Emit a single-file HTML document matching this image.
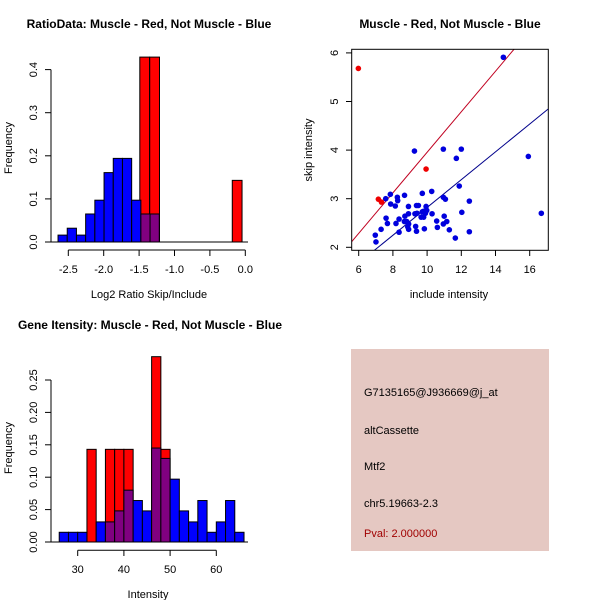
<!DOCTYPE html>
<html><head><meta charset="utf-8"><style>
body{margin:0;background:#fff}
svg{display:block;font-family:"Liberation Sans",sans-serif}
</style></head><body>
<svg id="c" width="600" height="600" xmlns="http://www.w3.org/2000/svg">
<rect width="600" height="600" fill="#fff"/>
<rect x="351" y="349" width="198" height="202" fill="#e5c8c2"/>
<text x="364" y="396" font-size="11" fill="#000">G7135165@J936669@j_at</text>
<text x="364" y="434" font-size="11" fill="#000">altCassette</text>
<text x="364" y="470" font-size="11" fill="#000">Mtf2</text>
<text x="364" y="507" font-size="11" fill="#000">chr5.19663-2.3</text>
<text x="364" y="537" font-size="11" fill="#a00000">Pval: 2.000000</text>
</svg>
<script>
// ---- Panel 1: ratio histogram ----
const ratioBlueLefts = [-2.645,-2.515,-2.385,-2.255,-2.125,-1.995,-1.865,-1.735,-1.605,-1.475,-1.345];
const ratioBlueFreq = [0.016,0.032,0.016,0.065,0.097,0.161,0.194,0.194,0.097,0.065,0.065];
const ratioRedLefts = [-1.49,-1.35,-0.184];
const ratioRedFreq = [0.429,0.429,0.143];
const ratioXTicks = [-2.5,-2.0,-1.5,-1.0,-0.5,0.0];
const ratioYTicks = [0.0,0.1,0.2,0.3,0.4];
// ---- Panel 2: scatter ----
const redX = [5.98,7.15,7.33,9.94];
const redY = [5.68,2.99,2.93,3.61];
const blueX = [14.46,15.92,16.68,9.26,10.95,12.0,11.71,11.88,9.72,10.27,8.68,7.58,7.85,8.26,8.28,7.87,8.14,10.95,11.07,12.47,8.91,9.38,9.49,9.94,9.98,9.79,9.72,9.90,9.29,9.41,8.91,8.70,10.29,11.0,12.03,9.65,9.80,7.60,8.36,8.67,7.68,8.18,8.81,8.92,10.56,11.15,10.95,9.33,8.87,10.60,8.92,9.84,7.31,11.30,8.36,9.38,12.47,11.65,6.97,7.01];
const blueY = [5.91,3.87,2.70,3.98,4.02,4.02,3.83,3.26,3.11,3.15,3.07,3.00,3.09,3.03,2.96,2.89,2.85,3.03,2.99,2.95,2.84,2.86,2.86,2.84,2.76,2.74,2.73,2.70,2.69,2.70,2.69,2.64,2.69,2.64,2.72,2.62,2.62,2.60,2.58,2.53,2.49,2.49,2.53,2.48,2.54,2.53,2.48,2.43,2.42,2.41,2.37,2.38,2.37,2.36,2.31,2.33,2.32,2.19,2.25,2.11];
const redLine = [-0.215,0.417];
const blueLine = [-0.04,0.286];
const scatXTicks = [6,8,10,12,14,16];
const scatYTicks = [2,3,4,5,6];
// ---- Panel 3: intensity histogram ----
const intBlueLefts = [26,28,30,32,34,36,38,40,42,44,46,48,50,52,54,56,58,60,62,64];
const intBlueFreq = [0.015,0.015,0.015,0,0.031,0.031,0.048,0.080,0.064,0.048,0.145,0.129,0.097,0.048,0.031,0.064,0.015,0.031,0.064,0.015];
const intRedLefts = [32,36,38,40,46,48];
const intRedFreq = [0.143,0.143,0.143,0.143,0.286,0.143];
const intXTicks = [30,40,50,60];
const intYTicks = [0.00,0.05,0.10,0.15,0.20,0.25];

const svg = document.getElementById('c');
const NS = 'http://www.w3.org/2000/svg';
function mk(tag, attrs, parent){const e=document.createElementNS(NS,tag);for(const k in attrs)e.setAttribute(k,attrs[k]);(parent||svg).appendChild(e);return e;}
function txt(x,y,s,size,opts){const e=mk('text',Object.assign({x:x,y:y,'font-size':size,'text-anchor':'middle',fill:'#000'},opts||{}));e.textContent=s;return e;}

// Panel 1
(function(){
  const X = v => 245.3 + v*70.8;
  const Y = v => 242 - v*431;
  const g = mk('g',{});
  
  
  ratioRedLefts.forEach((l,i)=>{
    const r = mk('rect',{x:X(l),y:Y(ratioRedFreq[i]),width:X(l+0.138)-X(l),height:Y(0)-Y(ratioRedFreq[i]),fill:'#ff0000',stroke:'#000','stroke-width':1},g);
    
    
  });
  ratioBlueLefts.forEach((l,i)=>{
    const overlap = ratioRedLefts.some(rl=>Math.abs(rl-l)<0.07);
    const r = mk('rect',{x:X(l),y:Y(ratioBlueFreq[i]),width:X(l+0.13)-X(l),height:Y(0)-Y(ratioBlueFreq[i]),fill:overlap?'#800080':'#0000ff',stroke:'#000','stroke-width':1},g);
    
    
  });
  mk('line',{x1:45,y1:242,x2:248,y2:242,stroke:'#000'},g);
  mk('line',{x1:51,y1:Y(0),x2:51,y2:Y(0.4),stroke:'#000'},g);
  ratioYTicks.forEach(t=>{mk('line',{x1:45,y1:Y(t),x2:51,y2:Y(t),stroke:'#000'},g);
    const e=txt(0,0,t.toFixed(1),11,{transform:`translate(37,${Y(t)}) rotate(-90)`});});
  mk('line',{x1:X(-2.5),y1:250,x2:X(0),y2:250,stroke:'#000'},g);
  ratioXTicks.forEach(t=>{mk('line',{x1:X(t),y1:250,x2:X(t),y2:256,stroke:'#000'},g);
    const e=txt(X(t),273,t.toFixed(1),11);});
  let e=txt(149,28,'RatioData: Muscle - Red, Not Muscle - Blue',12,{'font-weight':'bold'});
  e=txt(149,298,'Log2 Ratio Skip/Include',11);
  e=txt(0,0,'Frequency',11,{transform:'translate(12,148) rotate(-90)'});
})();

// Panel 2
(function(){
  const X = v => 358.7 + (v-6)*17.1;
  const Y = v => 247.3 - (v-2)*48.6;
  const g = mk('g',{});
  
  
  const clip = mk('clipPath',{id:'sc'},g); mk('rect',{x:351.7,y:49.3,width:196.6,height:201},clip);
  const x0=5.59,x1=17.08;
  const l1=mk('line',{x1:X(x0),y1:Y(redLine[0]+redLine[1]*x0),x2:X(x1),y2:Y(redLine[0]+redLine[1]*x1),stroke:'#c00020','clip-path':'url(#sc)'},g);
  
  const l2=mk('line',{x1:X(x0),y1:Y(blueLine[0]+blueLine[1]*x0),x2:X(x1),y2:Y(blueLine[0]+blueLine[1]*x1),stroke:'#00008b','clip-path':'url(#sc)'},g);
  
  blueX.forEach((x,i)=>{const c=mk('circle',{cx:X(x),cy:Y(blueY[i]),r:2.8,fill:'#0000dd'},g);
    });
  redX.forEach((x,i)=>{const c=mk('circle',{cx:X(x),cy:Y(redY[i]),r:2.8,fill:'#ee0000'},g);
    });
  mk('rect',{x:351.7,y:49.3,width:196.6,height:201,fill:'none',stroke:'#000'},g);
  scatXTicks.forEach(t=>{mk('line',{x1:X(t),y1:250.3,x2:X(t),y2:256,stroke:'#000'},g);
    const e=txt(X(t),273,String(t),11);});
  scatYTicks.forEach(t=>{mk('line',{x1:346,y1:Y(t),x2:351.7,y2:Y(t),stroke:'#000'},g);
    const e=txt(0,0,String(t),11,{transform:`translate(338,${Y(t)}) rotate(-90)`});});
  let e=txt(450,28,'Muscle - Red, Not Muscle - Blue',12,{'font-weight':'bold'});
  e=txt(449,298,'include intensity',11);
  e=txt(0,0,'skip intensity',11,{transform:'translate(312,150) rotate(-90)'});
})();

// Panel 3
(function(){
  const X = v => 77.7 + (v-30)*4.62;
  const Y = v => 542 - v*648;
  const g = mk('g',{});
  
  
  intRedLefts.forEach((l,i)=>{
    const r = mk('rect',{x:X(l),y:Y(intRedFreq[i]),width:X(l+2)-X(l),height:Y(0)-Y(intRedFreq[i]),fill:'#ff0000',stroke:'#000'},g);
    
    
  });
  intBlueLefts.forEach((l,i)=>{
    if(intBlueFreq[i]<=0) return;
    const overlap = intRedLefts.includes(l);
    const r = mk('rect',{x:X(l),y:Y(intBlueFreq[i]),width:X(l+2)-X(l),height:Y(0)-Y(intBlueFreq[i]),fill:overlap?'#800080':'#0000ff',stroke:'#000'},g);
    
    
  });
  mk('line',{x1:45,y1:542,x2:248,y2:542,stroke:'#000'},g);
  mk('line',{x1:51,y1:Y(0),x2:51,y2:Y(0.25),stroke:'#000'},g);
  intYTicks.forEach(t=>{mk('line',{x1:45,y1:Y(t),x2:51,y2:Y(t),stroke:'#000'},g);
    const e=txt(0,0,t.toFixed(2),11,{transform:`translate(37,${Y(t)}) rotate(-90)`});});
  mk('line',{x1:X(30),y1:550.3,x2:X(60),y2:550.3,stroke:'#000'},g);
  intXTicks.forEach(t=>{mk('line',{x1:X(t),y1:550.3,x2:X(t),y2:556,stroke:'#000'},g);
    const e=txt(X(t),573,String(t),11);});
  let e=txt(150,329,'Gene Itensity: Muscle - Red, Not Muscle - Blue',12,{'font-weight':'bold'});
  e=txt(148,598,'Intensity',11);
  e=txt(0,0,'Frequency',11,{transform:'translate(12,448) rotate(-90)'});
})();
</script>
</body></html>
